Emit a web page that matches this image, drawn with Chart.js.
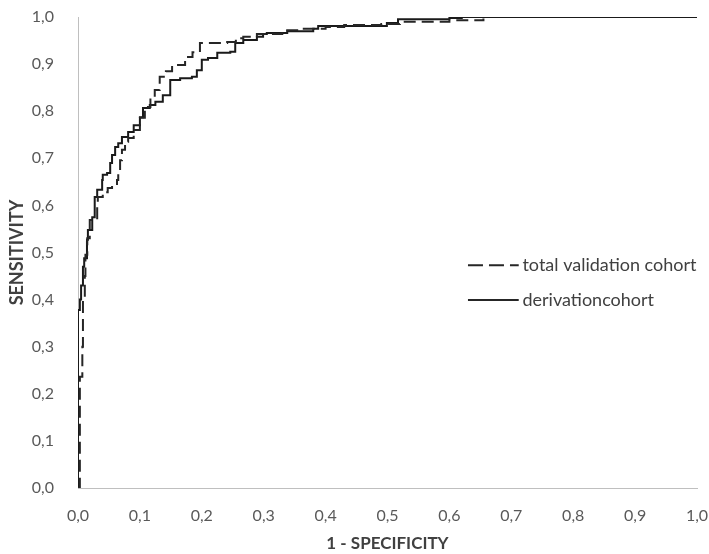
<!DOCTYPE html>
<html>
<head>
<meta charset="utf-8">
<script src="https://cdn.jsdelivr.net/npm/chart.js@4/dist/chart.umd.min.js"></script>
<style>
    html, body { margin: 0; padding: 0; background: #fff; }
    #wrap { width: 709px; height: 554px; }
</style>
</head>
<body>
<div id="wrap"><canvas id="rocChart"></canvas></div>
<script>
// Dados da curva ROC
const xTicks = [0, 0.1, 0.2, 0.3, 0.4, 0.5, 0.6, 0.7, 0.8, 0.9, 1.0];
const yTicks = [0, 0.1, 0.2, 0.3, 0.4, 0.5, 0.6, 0.7, 0.8, 0.9, 1.0];

const seriesNames = ['total validation cohort', 'derivationcohort'];

// derivation cohort (linha contínua)
const derivationX = [0, 0, 0.003, 0.005, 0.008, 0.010, 0.0145, 0.016, 0.023, 0.027, 0.031, 0.039, 0.040, 0.047,
    0.052, 0.055, 0.060, 0.065, 0.071, 0.081, 0.090, 0.100, 0.105, 0.116, 0.125, 0.137, 0.149, 0.165, 0.184,
    0.192, 0.200, 0.210, 0.225, 0.246, 0.254, 0.267, 0.289, 0.299, 0.305, 0.338, 0.380, 0.388, 0.499, 0.517,
    0.600, 0.620, 1.0];
const derivationY = [0, 0.378, 0.400, 0.430, 0.470, 0.488, 0.527, 0.548, 0.575, 0.618, 0.633, 0.654, 0.665, 0.669,
    0.690, 0.707, 0.724, 0.732, 0.745, 0.756, 0.770, 0.787, 0.807, 0.813, 0.820, 0.834, 0.866, 0.870, 0.873,
    0.887, 0.909, 0.913, 0.924, 0.926, 0.945, 0.951, 0.958, 0.964, 0.966, 0.970, 0.975, 0.981, 0.987, 0.995,
    0.998, 1.0, 1.0];

// total validation cohort (linha tracejada)
const validationX = [0, 0.003, 0.003, 0.007, 0.008, 0.011, 0.012, 0.015, 0.019, 0.031, 0.032, 0.040, 0.048, 0.055,
    0.063, 0.065, 0.068, 0.071, 0.076, 0.081, 0.090, 0.100, 0.108, 0.117, 0.124, 0.132, 0.142, 0.152, 0.173,
    0.185, 0.197, 0.241, 0.255, 0.267, 0.289, 0.330, 0.360, 0.400, 0.430, 0.490, 0.520, 0.600, 0.655];
const validationY = [0, 0.140, 0.236, 0.300, 0.400, 0.450, 0.495, 0.530, 0.569, 0.597, 0.618, 0.628, 0.637, 0.643,
    0.654, 0.671, 0.696, 0.718, 0.735, 0.743, 0.760, 0.786, 0.809, 0.825, 0.845, 0.873, 0.885, 0.898, 0.915,
    0.925, 0.945, 0.947, 0.955, 0.958, 0.964, 0.972, 0.975, 0.979, 0.983, 0.985, 0.990, 0.993, 0.997];

function toPoints(xs, ys) {
    return xs.map(function(x, i) { return { x: x, y: ys[i] }; });
}

function fmt(v) {
    return v.toFixed(1).replace('.', ',');
}

// Legenda desenhada dentro da área do gráfico
const insideLegend = {
    id: 'insideLegend',
    afterDatasetsDraw: function(chart) {
        const ctx = chart.ctx;
        const xs = chart.scales.x;
        const ys = chart.scales.y;
        const items = [
            { label: seriesNames[0], dash: [15, 6], y: 0.473 },
            { label: seriesNames[1], dash: [], y: 0.399 }
        ];
        ctx.save();
        items.forEach(function(it) {
            const py = ys.getPixelForValue(it.y);
            ctx.beginPath();
            ctx.setLineDash(it.dash);
            ctx.lineWidth = 2;
            ctx.strokeStyle = '#262626';
            ctx.moveTo(xs.getPixelForValue(0.630), py);
            ctx.lineTo(xs.getPixelForValue(0.712), py);
            ctx.stroke();
            ctx.setLineDash([]);
            ctx.fillStyle = '#404040';
            ctx.font = '18px Lato';
            ctx.textBaseline = 'middle';
            ctx.fillText(it.label, xs.getPixelForValue(0.718), py);
        });
        ctx.restore();
    }
};

document.addEventListener('DOMContentLoaded', function() {
    const ctx = document.getElementById('rocChart').getContext('2d');
    const rocChart = new Chart(ctx, {
        type: 'line',
        data: {
            datasets: [{
                label: seriesNames[0],
                data: toPoints(validationX, validationY),
                borderColor: '#262626',
                borderWidth: 2,
                borderDash: [12, 6],
                stepped: 'before',
                pointRadius: 0,
                fill: false
            }, {
                label: seriesNames[1],
                data: toPoints(derivationX, derivationY),
                borderColor: '#1a1a1a',
                borderWidth: 2,
                stepped: 'before',
                pointRadius: 0,
                fill: false
            }]
        },
        options: {
            responsive: true,
            maintainAspectRatio: false,
            animation: false,
            layout: { padding: 0 },
            scales: {
                x: {
                    type: 'linear',
                    min: 0,
                    max: 1,
                    afterBuildTicks: function(s) { s.ticks = xTicks.map(function(v) { return { value: v }; }); },
                    afterFit: function(s) {
                        s.height = 66;
                        s.paddingLeft = 0;
                        s.paddingRight = 12;
                    },
                    grid: { display: false, drawTicks: false },
                    border: { display: true, color: '#bfbfbf', width: 1 },
                    ticks: {
                        color: '#595959',
                        font: { family: 'Lato', size: 16 },
                        padding: 18,
                        maxRotation: 0,
                        callback: function(v) { return fmt(v); }
                    },
                    title: {
                        display: true,
                        text: '1 - SPECIFICITY',
                        color: '#404040',
                        font: { family: 'Lato', size: 17, weight: 'bold' },
                        padding: { top: 2, bottom: 0 }
                    }
                },
                y: {
                    type: 'linear',
                    min: 0,
                    max: 1,
                    afterBuildTicks: function(s) { s.ticks = yTicks.map(function(v) { return { value: v }; }); },
                    afterFit: function(s) {
                        s.width = 78;
                        s.paddingTop = 17;
                        s.paddingBottom = 0;
                    },
                    grid: { display: false, drawTicks: false },
                    border: { display: true, color: '#bfbfbf', width: 1 },
                    ticks: {
                        color: '#595959',
                        font: { family: 'Lato', size: 16 },
                        padding: 24,
                        callback: function(v) { return fmt(v); }
                    },
                    title: {
                        display: true,
                        text: 'SENSITIVITY',
                        color: '#404040',
                        font: { family: 'Lato', size: 18, weight: 'bold' },
                        padding: { top: 6, bottom: 0 }
                    }
                }
            },
            plugins: {
                legend: { display: false },
                tooltip: { enabled: false }
            }
        },
        plugins: [insideLegend]
    });
});
</script>
</body>
</html>
